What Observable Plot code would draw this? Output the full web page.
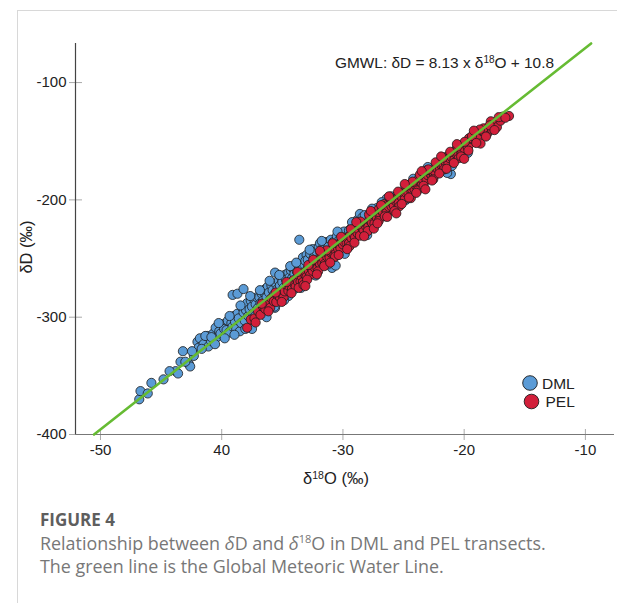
<!DOCTYPE html>
<html><head><meta charset="utf-8">
<script src="https://cdn.jsdelivr.net/npm/d3@7"></script>
<script src="https://cdn.jsdelivr.net/npm/@observablehq/plot@0.6"></script>
<style>
body{margin:0;background:#fff;font-family:"Liberation Sans",Arial,sans-serif;width:617px;height:603px;overflow:hidden;position:relative;}
#frame{position:absolute;left:17px;top:10px;width:600px;height:593px;border-left:1px solid #d8d8d8;border-top:1px solid #d8d8d8;box-sizing:border-box;}
#chart{position:absolute;left:0;top:0;}
#cap{position:absolute;left:40px;top:508px;font-family:"Open Sans",sans-serif;color:#777;font-size:17.9px;line-height:23.5px;white-space:nowrap;}
#cap .fig{color:#5e5e5e;font-weight:700;font-size:17px;}
#cap sup{font-size:11px;line-height:0;}
</style></head>
<body>
<div id="frame"></div>
<div id="chart"></div>
<div id="cap"><div class="fig">FIGURE 4</div>
<div>Relationship between <i>δ</i>D and <i>δ</i><sup>18</sup>O in DML and PEL transects.</div>
<div>The green line is the Global Meteoric Water Line.</div></div>
<script>
// DML transect: δ18O (x) and δD (y)
const dmlX = [-46.8,-46.7,-46.1,-45.8,-44.8,-43.8,-43.6,-43.4,-43.2,-42.7,-42.6,-42.3,-42.0,-41.8,-41.9,
-41.5,-41.1,-41.2,-40.9,-40.7,-40.5,-40.4,-40.2,-40.1,-39.9,-39.8,-39.6,-39.5,-39.4,-39.2,-39.1,-39.0,-38.9,-38.8,-38.7,-38.6,-38.5,-38.4,-38.3,-38.2,-38.1,-38.0,-37.9,-37.8,-37.7,-37.6,-37.5,-37.4,-37.3,-37.2,-37.1,-37.0,
-39.1,-38.7,-38.2,-37.5,
-36.9,-36.8,-36.7,-36.6,-36.5,-36.4,-36.3,-36.2,-36.1,-36.0,-35.9,-35.8,-35.7,-35.6,-35.5,-35.4,-35.3,-35.2,-35.1,-35.0,-34.9,-34.8,-34.7,-34.6,-34.5,-34.4,-34.3,-34.2,-34.1,-34.0,-33.9,-33.8,-33.6,-33.6,-33.5,-33.4,-33.3,-33.2,-33.0,-33.1,
-36.3,-35.6,-35.0,-34.5,-34.0,
-32.9,-32.7,-32.5,-32.4,-32.2,-32.0,-31.9,-31.8,-31.6,-31.4,-31.2,-31.0,-30.9,-30.6,-30.8,-30.5,-30.3,-30.1,-29.9,-29.7,-29.5,-29.3,-29.1,-28.8,-28.6,-28.4,-28.0,-28.2,
-27.2,-26.4,-26.0,-25.5,-24.8,-21.1,-21.0,-19.7,
-44.3,-43.0,-42.45,-41.65,-41.35,-40.85,-40.55,-40.25,-39.75,-39.35,-38.95,-38.45,-38.05,-37.65,-37.25,-36.85,-36.45,-36.05,-35.65,-35.25,-34.85,-34.35,-33.85,-33.45,-32.75,-32.25,-31.75,-31.25,-30.45,-29.85,-29.25,-27.6,-26.8,-24.2,-23.0,-21.4];
const dmlY = [-370,-363,-365,-356,-353,-346,-348,-338,-329,-340,-342,-333,-321,-318,-326,
-323,-325,-316,-320,-314,-309,-317,-312,-314,-306,-310,-311,-303,-313,-305,-308,-299,-304,-310,-297,-301,-312,-305,-292,-296,-303,-294,-288,-299,-293,-286,-291,-297,-285,-289,-283,-292,
-281,-280,-276,-310,
-283,-288,-280,-286,-279,-276,-283,-274,-279,-285,-273,-277,-281,-262,-272,-276,-269,-273,-266,-270,-275,-264,-268,-271,-262,-266,-260,-267,-259,-263,-257,-261,-234,-257,-254,-259,-249,-255,-247,-252,
-300,-292,-285,-282,-276,
-251,-246,-242,-249,-244,-240,-237,-244,-239,-236,-240,-234,-258,-256,-236,-231,-234,-228,-227,-231,-226,-224,-222,-217,-212,-215,-230,-213,
-207,-199,-197,-196,-200,-178,-171,-160,
-346,-338,-329,-327,-316,-317,-323,-305,-318,-299,-315,-290,-310,-282,-299,-277,-294,-269,-291,-264,-285.5,-256.5,-253.5,-275,-242.5,-264.5,-235,-255,-227,-246,-219,-207.5,-202,-182,-172,-177];

// PEL transect
const pelX = [-37.9,-37.6,-37.3,-37.0,-36.8,-36.6,-36.4,-36.2,-36.0,-35.9,-35.7,-35.5,-35.4,-35.2,-35.1,-34.9,-34.8,-34.6,-34.5,-34.4,-34.2,-34.1,-34.0,
-33.9,-33.8,-33.7,-33.6,-33.5,-33.4,-33.3,-33.2,-33.1,-33.0,-32.9,-32.8,-32.7,-32.6,-32.5,-32.4,-32.3,-32.2,-32.1,-32.0,-31.9,-31.8,-31.7,-31.6,-31.5,-31.4,-31.3,-31.2,-31.1,-31.0,-30.9,-30.8,-30.7,-30.6,-30.5,-30.4,-30.3,-30.2,-30.1,-30.0,
-33.65,-32.85,-32.05,-31.35,-30.65,
-29.9,-29.8,-29.7,-29.6,-29.5,-29.4,-29.3,-29.2,-29.1,-29.0,-28.9,-28.8,-28.7,-28.6,-28.5,-28.4,-28.3,-28.2,-28.1,-28.0,-27.9,-27.8,-27.7,-27.6,-27.5,-27.4,-27.3,-27.2,-27.1,-27.0,-26.9,-26.8,-26.7,-26.6,-26.5,-26.4,-26.3,-26.2,-26.1,-26.0,
-29.45,-28.75,-27.95,-27.05,-26.55,
-25.9,-25.8,-25.7,-25.6,-25.5,-25.4,-25.3,-25.2,-25.1,-25.0,-24.9,-24.8,-24.7,-24.6,-24.5,-24.4,-24.3,-24.2,-24.1,-24.0,-23.9,-23.8,-23.7,-23.6,-23.5,-23.4,-23.3,-23.2,-23.1,-23.0,-22.9,-22.8,-22.7,-22.6,-22.5,-22.4,-22.3,-22.2,-22.1,-22.0,
-25.35,-24.65,-23.85,-23.05,-22.55,
-21.9,-21.8,-21.7,-21.6,-21.5,-21.4,-21.3,-21.2,-21.1,-21.0,-20.9,-20.8,-20.7,-20.6,-20.5,-20.4,-20.3,-20.2,-20.1,-20.0,-19.8,-19.7,-19.5,-19.4,-19.2,-19.1,-18.9,-18.8,-18.65,-18.5,-18.3,-18.1,-18.0,-17.8,-17.6,-17.4,-17.3,-17.0,-16.8,-16.3,
-21.65,-20.45,-19.6,-18.4,-17.7,
-37.2,-36.7,-36.15,-35.55,-35.05,-34.65,-34.25,-33.75,-33.25,-32.95,-32.45,-32.15,-31.85,-31.55,-31.05,-30.85,-30.35,-30.15,-29.65,-29.35,-29.05,-28.55,-28.25,-27.85,-27.45,-27.15,-26.85,-26.35,-26.05,-25.75,-25.45,-25.15,-24.85,-24.55,-24.25,-23.95,-23.65,-23.35,-22.95,-22.65,-22.35,-22.05,-21.75,-21.45,-21.15,-20.85,-20.55,-20.25,-19.95,-19.65,-19.35,-19.0,-18.7,-18.2,-17.9,-17.5,-17.15,-16.6,
-28.9,-27.7,-26.2,-24.9,-23.5,-21.9,-20.6,-19.2,-25.6,-23.2,-20.0,-31.9,-33.1];
const pelY = [-309,-302,-301,-295,-298,-291,-293,-289.5,-292,-284,-286.5,-287,-281,-283,-279.5,-283,-278,-273.5,-277.5,-274,-276,-268.5,-271.5,
-274,-268,-270,-264.5,-269.5,-265.5,-270,-262,-264,-265.5,-258.5,-261,-264,-258,-260.5,-253.5,-258,-254,-258,-253.5,-254.5,-249.5,-254,-250,-254.5,-245.5,-248.5,-246,-249,-245,-242.5,-245.5,-242,-246,-238,-241.5,-238.5,-241.5,-236,-238,
-275,-255.5,-261,-243,-248.5,
-236,-232.5,-236.5,-233,-237,-230,-232.5,-225.5,-230,-232,-226,-228.5,-225.5,-230.5,-222,-224,-225.5,-220.5,-222.5,-220,-223,-215,-218.5,-219.5,-215,-220,-214,-215.5,-208.5,-212.5,-214,-209,-210.5,-203.5,-207.5,-211,-204,-206,-203.5,-205.5,
-239.5,-221,-226.5,-218,-214,
-203,-205,-199,-201.5,-198.5,-202.5,-194,-197,-198.5,-194.5,-199.5,-194,-190,-194,-190.5,-198.5,-191,-187,-191,-187.5,-185.5,-187.5,-181,-185,-187.5,-182.5,-177.5,-180,-183,-179,-176.5,-176.5,-179,-176,-180,-176,-171.5,-173.5,-171,-174,
-205.5,-187.5,-192,-174.5,-182.5,
-170,-167.5,-170.5,-167,-168,-163,-168.5,-164.5,-161.5,-164,-161,-165.5,-160.5,-156.5,-161,-157,-156,-159.5,-153.5,-156,-153,-155.5,-152,-148,-147.5,-149.5,-146,-146,-152,-141.5,-143,-143.5,-138.5,-133,-136,-135,-138,-132.5,-129,-128.5,
-174,-164.5,-147.5,-139,-140,
-304.5,-288.5,-295,-279,-287,-270,-279.5,-261.5,-272.5,-268,-251,-263.5,-245,-256.5,-253.5,-237,-247,-231.5,-242,-225,-236.5,-218.5,-231,-212.5,-224.5,-220,-204.5,-214.5,-199,-209.5,-193,-203.5,-188,-198,-184.5,-194,-178.5,-188,-174,-183.5,-168,-177.5,-164,-173.5,-159,-168.5,-154.5,-163,-150.5,-158,-145.5,-151.5,-140,-146,-136.5,-140.5,-129.5,-130,
-219,-209.5,-197,-186.5,-175.5,-163,-152.5,-141,-211.5,-191,-165,-243.5,-273.5];

// GMWL end points (δD = 8.13 x δ18O + 10.8)
const gmwlX = [-50.53, -9.53];
const gmwlY = [-400, -66.7];

const xTicks = [-50, -40, -30, -20, -10];
const xTickLabels = ["-50", "40", "-30", "-20", "-10"];
const yTicks = [-100, -200, -300, -400];
const xDomain = [-52.06, -7.6];
const yDomain = [-400, -66.7];

const dml = dmlX.map((x, i) => ({x, y: dmlY[i]}));
const pel = pelX.map((x, i) => ({x, y: pelY[i]}));
const gmwl = gmwlX.map((x, i) => ({x, y: gmwlY[i]}));

const W = 617, H = 492;
const font = "'Liberation Sans', Arial, sans-serif";
const plot = Plot.plot({
  width: W, height: H,
  marginLeft: 75, marginRight: 3, marginTop: 43, marginBottom: H - 434,
  x: {domain: xDomain},
  y: {domain: yDomain},
  style: {fontFamily: font, fontSize: "15px", color: "#222", background: "transparent"},
  marks: [
    Plot.axisY({ticks: yTicks, tickSize: 13, dx: 7, tickFormat: () => "", stroke: "#aaa", label: null}),
    Plot.axisY({ticks: yTicks, tickSize: 0, tickPadding: 9, tickFormat: d => String(d), fill: "#222", label: null, fontSize: 15}),
    Plot.axisX({ticks: xTicks, tickSize: 11, dy: -5, tickFormat: () => "", stroke: "#aaa", label: null}),
    Plot.axisX({ticks: xTicks, tickSize: 0, tickPadding: 10, tickFormat: d => xTickLabels[xTicks.indexOf(d)], fill: "#222", label: null, fontSize: 15}),
    Plot.ruleY([yDomain[0]], {stroke: "#777", strokeWidth: 1.2}),
    Plot.ruleX([xDomain[0]], {stroke: "#444", strokeWidth: 1.2}),
    Plot.dot(dml, {x: "x", y: "y", r: 4.6, fill: "#5b9bd6", stroke: "#1c1c1c", strokeWidth: 0.8}),
    Plot.dot(pel, {x: "x", y: "y", r: 4.6, fill: "#d21f3a", stroke: "#1c1c1c", strokeWidth: 0.8}),
    Plot.line(gmwl, {x: "x", y: "y", stroke: "#66bb33", strokeWidth: 2.6})
  ]
});
document.getElementById("chart").appendChild(plot);

const svg = d3.select(plot);
// equation annotation
const eq = svg.append("text").attr("x", 335).attr("y", 68).attr("text-anchor", "start")
  .attr("font-family", font).attr("font-size", 15.4).attr("fill", "#222");
eq.append("tspan").text("GMWL: δD = 8.13 x δ");
eq.append("tspan").attr("font-size", 10).attr("dy", -5).text("18");
eq.append("tspan").attr("dy", 5).text("O + 10.8");
// x label
const xl = svg.append("text").attr("x", 336).attr("y", 484).attr("text-anchor", "middle")
  .attr("font-family", font).attr("font-size", 16.5).attr("fill", "#222");
xl.append("tspan").text("δ");
xl.append("tspan").attr("font-size", 10.5).attr("dy", -5.5).text("18");
xl.append("tspan").attr("dy", 5.5).text("O (‰)");
// y label
svg.append("text").attr("transform", "translate(32,247) rotate(-90)").attr("text-anchor", "middle")
  .attr("font-family", font).attr("font-size", 16.5).attr("fill", "#222").text("δD (‰)");
// legend
const legend = [["DML", "#5b9bd6"], ["PEL", "#d21f3a"]];
legend.forEach(([name, c], i) => {
  const g = svg.append("g").attr("transform", `translate(${530 + i * 1.5},${383 + i * 18.5})`);
  g.append("circle").attr("r", 7.3).attr("fill", c).attr("stroke", "#1c1c1c").attr("stroke-width", 0.9);
  g.append("text").attr("x", 12 + i * 2).attr("y", 5.5).attr("text-anchor", "start")
    .attr("font-family", font).attr("font-size", 15.5).attr("fill", "#222").text(name);
});
</script>
</body></html>
